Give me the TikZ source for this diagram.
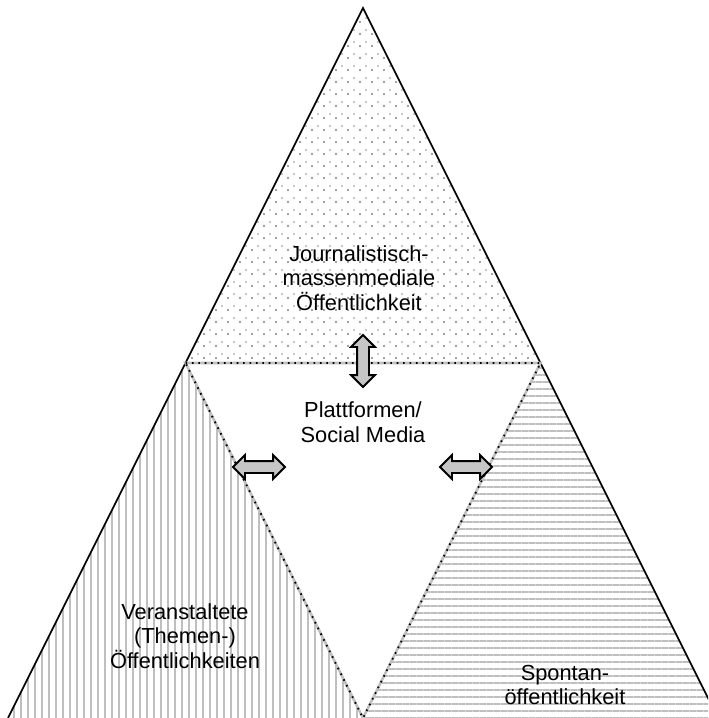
\documentclass[tikz,border=0pt]{standalone}
\usepackage{fontspec}
\setmainfont{Liberation Sans}
\usetikzlibrary{shapes.arrows, patterns.meta}

\begin{document}
\begin{tikzpicture}[
    x=0.5pt, y=-0.5pt,
    font=\fontsize{10.9}{12.3}\selectfont,
    every node/.style={align=center},
    outer/.style={draw=black, line width=0.8pt},
    inner/.style={
        draw=gray!50, line width=1.3pt,
        postaction={draw=black, line width=0.9pt, dash pattern=on 0.8pt off 2.4pt}
    },
    dotfill/.style={pattern={Dots[distance=6pt, radius=0.6pt]}, pattern color=gray},
    dotfill2/.style={pattern={Dots[distance=6pt, radius=0.6pt, xshift=3pt, yshift=2pt]}, pattern color=gray!60},
    vfill/.style={pattern={Lines[angle=90, distance=3.5pt, line width=0.9pt]}, pattern color=gray!50},
    hfill/.style={pattern={Lines[angle=0, distance=3.5pt, line width=0.9pt]}, pattern color=gray!50},
    link/.style={
        shape=double arrow, draw=black, line width=0.9pt, fill=gray!45,
        minimum height=26pt, minimum width=11pt, double arrow head extend=3pt,
        inner sep=2.5pt
    }
]

\useasboundingbox (0,0) rectangle (708,718);
\clip (0,0) rectangle (708,718);

% --------------------------------------------------------------------------
% Outer triangle and its medial triangle.
% --------------------------------------------------------------------------
\coordinate (apex) at (363,8);
\coordinate (left) at (8,718);
\coordinate (right) at (718,718);
\coordinate (ml) at (185.5,363);
\coordinate (mr) at (540.5,363);
\coordinate (mb) at (363,718);

% Hatched corner regions.
\path[dotfill] (apex) -- (ml) -- (mr) -- cycle;
\path[dotfill2] (apex) -- (ml) -- (mr) -- cycle;
\path[vfill] (ml) -- (left) -- (mb) -- cycle;
\path[hfill] (mr) -- (mb) -- (right) -- cycle;

% Edges.
\draw[outer] (left) -- (apex) -- (right);
\draw[inner] (ml) -- (mr) -- (mb) -- cycle;

% --------------------------------------------------------------------------
% Labels of the four publics.
% --------------------------------------------------------------------------
\node (journal) at (359,278) {Journalistisch-\\massenmediale\\Öffentlichkeit};
\node (platform) at (363,422) {Plattformen/\\Social Media};
\node (event) at (185,636) {Veranstaltete\\(Themen-)\\Öffentlichkeiten};
\node (spont) at (565,685) {Spontan-\\öffentlichkeit};

% Exchange arrows between the centre and the corners.
\node[link, rotate=90] (uparrow) at (363,361) {};
\node[link] (leftarrow) at (259,467) {};
\node[link] (rightarrow) at (466,467) {};

\end{tikzpicture}
\end{document}
